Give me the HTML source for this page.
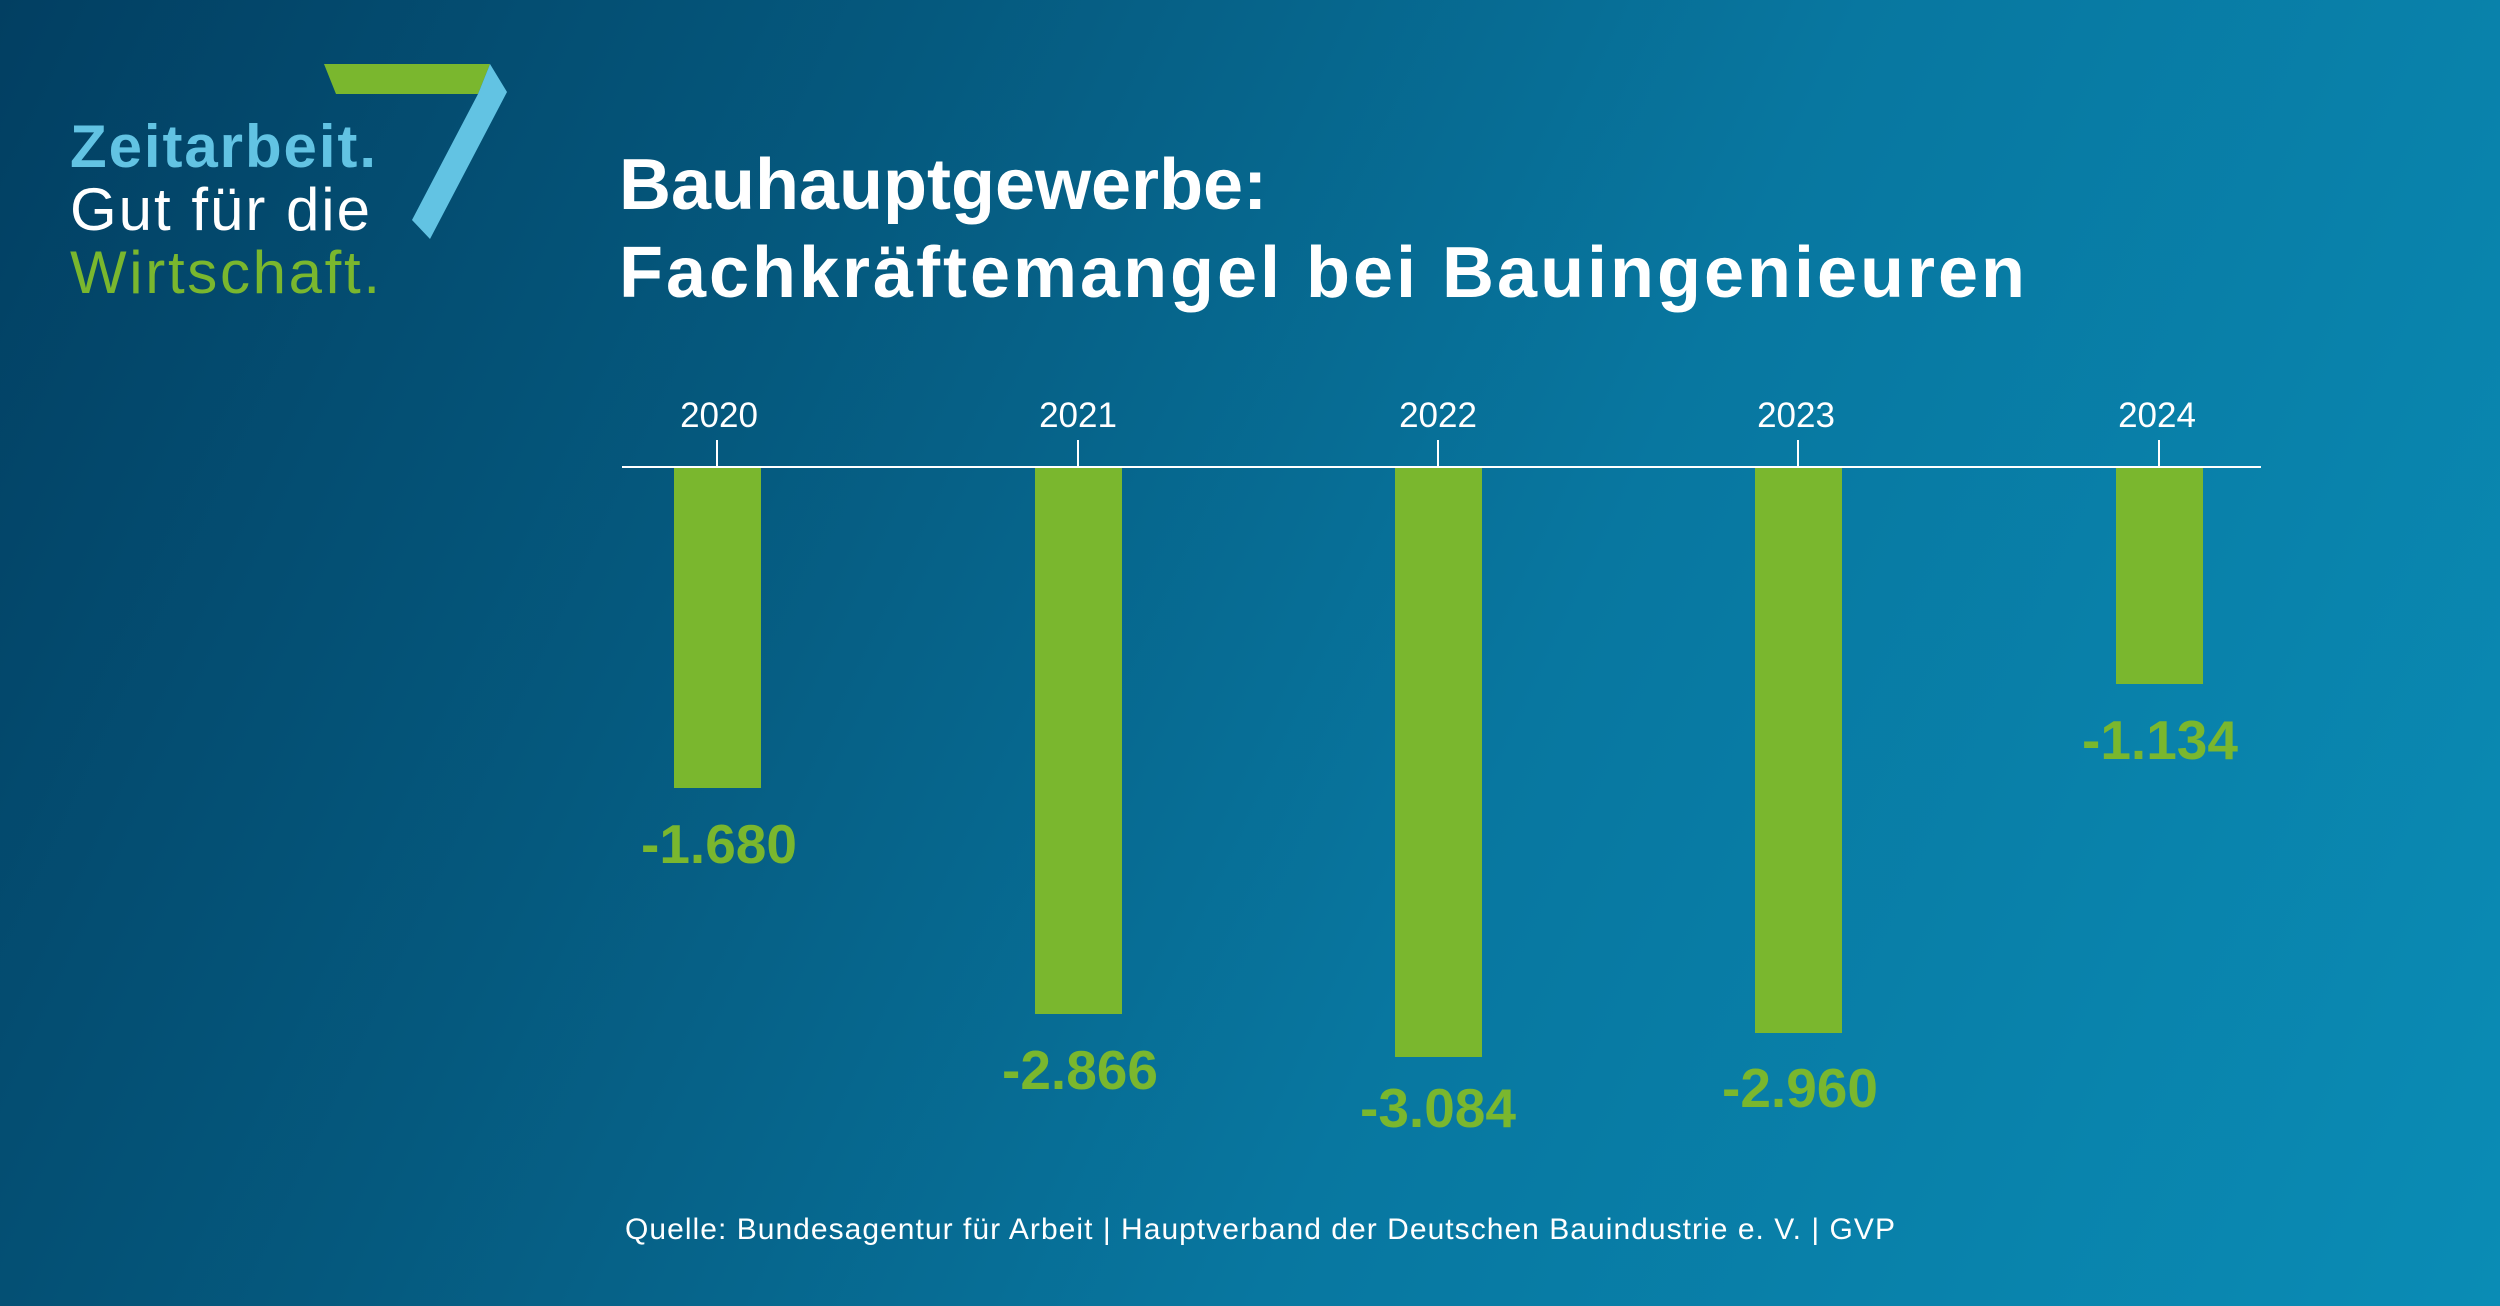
<!DOCTYPE html>
<html><head><meta charset="utf-8"><style>
html,body{margin:0;padding:0}
body{width:2500px;height:1306px;overflow:hidden;background:linear-gradient(115deg,#023f62 0%,#05597e 30%,#0877a0 60%,#0a8cb5 100%);font-family:"Liberation Sans",sans-serif;position:relative}
</style></head><body>
<svg width="2500" height="1306" style="position:absolute;left:0;top:0">
<polygon points="324,64 490,64 478,94 336,94" fill="#7ab72e"/>
<polygon points="490,64 507,92 430,239 412,220 478,94" fill="#62c3e3"/>
<line x1="622" y1="467" x2="2261" y2="467" stroke="#fff" stroke-width="2"/>
<g stroke="#fff" stroke-width="2">
<line x1="717" y1="440" x2="717" y2="467"/><line x1="1078" y1="440" x2="1078" y2="467"/><line x1="1438" y1="440" x2="1438" y2="467"/><line x1="1798" y1="440" x2="1798" y2="467"/><line x1="2159" y1="440" x2="2159" y2="467"/>
</g>
<g fill="#7ab72e">
<rect x="674" y="468" width="87" height="320"/>
<rect x="1035" y="468" width="87" height="546"/>
<rect x="1395" y="468" width="87" height="589"/>
<rect x="1755" y="468" width="87" height="565"/>
<rect x="2116" y="468" width="87" height="216"/>
</g>
<g font-family="Liberation Sans,sans-serif" font-size="35" fill="#fff" text-anchor="middle">
<text x="719" y="427">2020</text><text x="1078" y="427">2021</text><text x="1438" y="427">2022</text><text x="1796" y="427">2023</text><text x="2157" y="427">2024</text>
</g>
<g font-family="Liberation Sans,sans-serif" font-size="55" font-weight="bold" fill="#7ab72e" text-anchor="middle">
<text x="719" y="863">-1.680</text><text x="1080" y="1089">-2.866</text><text x="1438" y="1127">-3.084</text><text x="1800" y="1107">-2.960</text><text x="2160" y="759">-1.134</text>
</g>
<g font-family="Liberation Sans,sans-serif" font-size="60" font-weight="bold">
<text x="70" y="167" fill="#62c3e3" textLength="306">Zeitarbeit.</text>
<text x="70" y="230" fill="#fff" font-weight="normal" textLength="300">Gut für die</text>
<text x="70" y="293" fill="#7ab72e" font-weight="normal" textLength="310">Wirtschaft.</text>
</g>
<g font-family="Liberation Sans,sans-serif" font-size="72" font-weight="bold" fill="#fff">
<text x="619" y="209">Bauhauptgewerbe:</text>
<text x="619" y="297" textLength="1406">Fachkräftemangel bei Bauingenieuren</text>
</g>
<text x="625" y="1239" font-family="Liberation Sans,sans-serif" font-size="30" fill="#fff" textLength="1270">Quelle: Bundesagentur für Arbeit | Hauptverband der Deutschen Bauindustrie e. V. | GVP</text>
</svg>
</body></html>
